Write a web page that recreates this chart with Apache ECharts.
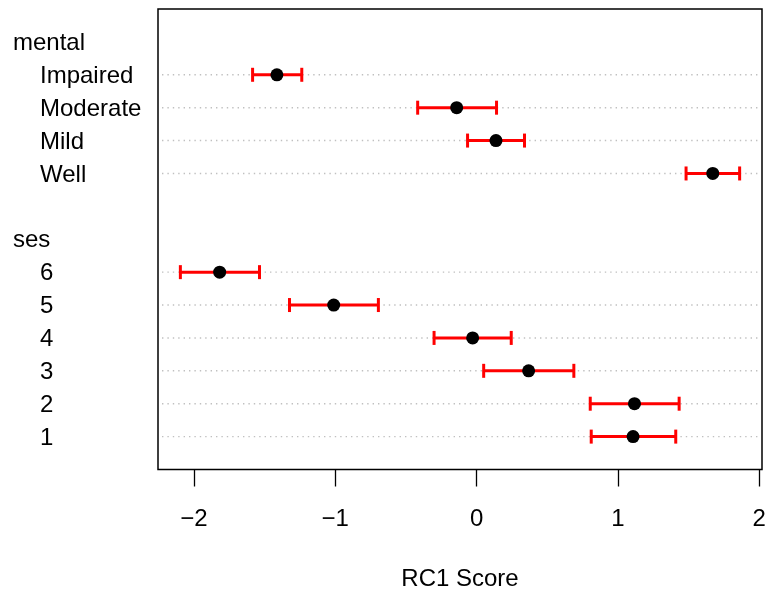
<!DOCTYPE html>
<html>
<head>
<meta charset="utf-8">
<script src="https://cdn.jsdelivr.net/npm/echarts@6/dist/echarts.min.js"></script>
<style>
html,body{margin:0;padding:0;background:#fff;}
#chart{width:766px;height:590px;}
</style>
</head>
<body>
<div id="chart"></div>
<script>
// ---- data ----
const groupNames = ['mental', 'ses'];
const mentalLevels = ['Impaired', 'Moderate', 'Mild', 'Well'];
const mentalScore = [-1.413, -0.141, 0.137, 1.671];
const mentalLower = [-1.585, -0.417, -0.064, 1.482];
const mentalUpper = [-1.237, 0.141, 0.339, 1.861];
const sesLevels = ['6', '5', '4', '3', '2', '1'];
const sesScore = [-1.818, -1.011, -0.028, 0.368, 1.117, 1.107];
const sesLower = [-2.096, -1.324, -0.301, 0.050, 0.804, 0.811];
const sesUpper = [-1.536, -0.695, 0.245, 0.688, 1.433, 1.409];
const xTicks = [-2, -1, 0, 1, 2];
const xTitle = 'RC1 Score';

// ---- build rows (top to bottom) ----
const rowLabels = [];   // {text, group}
const items = [];       // {row, score, lo, hi}
function addGroup(name, levels, score, lo, hi) {
  rowLabels.push({ text: name, group: true });
  levels.forEach((lv, i) => {
    rowLabels.push({ text: lv, group: false });
    items.push({ row: rowLabels.length, score: score[i], lo: lo[i], hi: hi[i] });
  });
}
addGroup(groupNames[0], mentalLevels, mentalScore, mentalLower, mentalUpper);
rowLabels.push({ text: '', group: false });
addGroup(groupNames[1], sesLevels, sesScore, sesLower, sesUpper);
const nRows = rowLabels.length;

const allVals = items.flatMap(d => [d.lo, d.hi]);
const dMin = Math.min(...allVals), dMax = Math.max(...allVals);
const ext = (dMax - dMin) * 0.04;
const xMin = dMin - ext, xMax = dMax + ext;

const FONT = 'Liberation Sans, Arial, Helvetica, sans-serif';
const chart = echarts.init(document.getElementById('chart'), null, { renderer: 'canvas' });

chart.setOption({
  animation: false,
  backgroundColor: '#fff',
  grid: { left: 158, right: 4, top: 9, bottom: 120.5, containLabel: false, outerBoundsMode: 'none',
    show: true, borderColor: '#000', borderWidth: 1.5, backgroundColor: 'transparent' },
  xAxis: {
    type: 'value', min: xMin, max: xMax, position: 'bottom',
    axisLine: { show: false, onZero: false },
    splitLine: { show: false },
    axisTick: { show: true, length: 17, customValues: xTicks, lineStyle: { color: '#000', width: 1.3 } },
    axisLabel: { customValues: xTicks, margin: 38, fontSize: 24, color: '#000', fontFamily: FONT,
      formatter: v => (v < 0 ? '\u2212' + Math.abs(v) : String(v)) },
    name: xTitle, nameLocation: 'middle', nameGap: 98,
    nameTextStyle: { fontSize: 24, color: '#000', fontFamily: FONT }
  },
  yAxis: {
    type: 'value', min: 0, max: nRows + 1, inverse: true,
    axisLine: { show: false, onZero: false }, axisTick: { show: false }, splitLine: { show: false },
    axisLabel: {
      customValues: rowLabels.map((r, i) => i + 1),
      align: 'left', margin: 145, fontSize: 24, color: '#000', fontFamily: FONT,
      formatter: v => {
        const r = rowLabels[Math.round(v) - 1];
        if (!r || !r.text) return '';
        return r.group ? '{g|' + r.text + '}' : '{i|' + r.text + '}';
      },
      rich: {
        g: { fontSize: 24, color: '#000', fontFamily: FONT, padding: [3, 0, 0, 0] },
        i: { fontSize: 24, color: '#000', fontFamily: FONT, padding: [3, 0, 0, 27] }
      }
    }
  },
  series: [
    {
      type: 'custom', silent: true, z: 1,
      data: items.map(d => [d.row]),
      renderItem: (params, api) => {
        const y = api.value(0);
        const p1 = api.coord([xMin, y]), p2 = api.coord([xMax, y]);
        return { type: 'line', shape: { x1: p1[0] + 4, y1: p1[1], x2: p2[0] - 4, y2: p2[1] },
          style: { stroke: '#c0c0c0', lineWidth: 1.4, lineDash: [1.4, 4] } };
      }
    },
    {
      type: 'custom', silent: true, z: 2,
      data: items.map(d => [d.lo, d.hi, d.row]),
      renderItem: (params, api) => {
        const a = api.coord([api.value(0), api.value(2)]);
        const b = api.coord([api.value(1), api.value(2)]);
        const h = 7;
        const st = { stroke: '#ff0000', lineWidth: 3 };
        return { type: 'group', children: [
          { type: 'line', shape: { x1: a[0], y1: a[1], x2: b[0], y2: b[1] }, style: st },
          { type: 'line', shape: { x1: a[0], y1: a[1] - h, x2: a[0], y2: a[1] + h }, style: st },
          { type: 'line', shape: { x1: b[0], y1: b[1] - h, x2: b[0], y2: b[1] + h }, style: st }
        ] };
      }
    },
    {
      type: 'scatter', silent: true, z: 3,
      symbol: 'circle', symbolSize: 13,
      itemStyle: { color: '#000', opacity: 1 },
      data: items.map(d => [d.score, d.row])
    }
  ]
});
</script>
</body>
</html>
